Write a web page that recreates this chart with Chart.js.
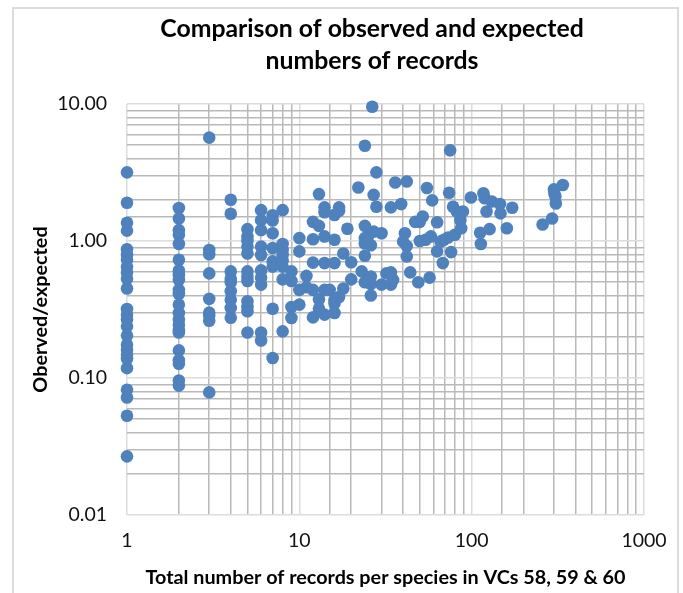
<!DOCTYPE html>
<html>
<head>
<meta charset="utf-8">
<title>Comparison of observed and expected numbers of records</title>
<script src="https://cdn.jsdelivr.net/npm/chart.js@4/dist/chart.umd.min.js"></script>
<style>
    html, body { margin: 0; background: #fff; overflow: hidden; }
    #frame { position: absolute; left: 12px; top: 7px; width: 663px; height: 620px; border: 2px solid #dcdcdc; }
    #wrap { position: absolute; left: 0; top: 0; width: 683px; height: 593px; }
</style>
</head>
<body>
<div id="frame"></div>
<div id="wrap"><canvas id="recordsChart" width="683" height="593"></canvas></div>
<script>
// Data
const chartTitle = ['Comparison of observed and expected', 'numbers of records'];
const xAxisTitle = 'Total number of records per species in VCs 58, 59 & 60';
const yAxisTitle = 'Oberved/expected';

const recordsX = [
    1, 1, 1, 1, 1, 1, 1, 1, 1, 1, 1, 1, 1, 1, 1, 1, 1, 1, 1, 1, 1, 1, 1, 1, 1,
    2, 2, 2, 2, 2, 2, 2, 2, 2, 2, 2, 2, 2, 2, 2, 2, 2, 2, 2, 2, 2, 2,
    3, 3, 3, 3, 3, 3, 3, 3, 3,
    4, 4, 4, 4, 4, 4, 4, 4, 4,
    5, 5, 5, 5, 5, 5, 5, 5, 5, 5, 5, 5,
    6, 6, 6, 6, 6, 6, 6, 6, 6, 6,
    7, 7, 7, 7, 7, 7, 7, 7,
    8, 8, 8, 8, 8, 8, 8, 8,
    9, 9, 9, 9,
    10, 10, 10, 10,
    11, 11, 12, 12, 12, 12, 12, 13, 13, 13, 13,
    14, 14, 14, 14, 14, 14, 15, 16, 16, 16, 16, 16, 16,
    17, 17, 17, 18, 18, 19, 20, 20,
    22, 23, 24, 24, 24, 24, 24, 24, 25, 26.5, 26, 26, 26, 26,
    27, 27, 28, 28, 30, 30, 32, 34, 34, 34, 35, 36,
    39, 40, 41, 42, 42, 42, 44, 47, 49, 50, 50, 52, 54, 55, 57, 58, 59,
    63, 63, 66, 68, 69, 73, 74, 75, 76, 78, 80, 82, 86, 87, 89, 99,
    112, 113, 117, 119, 122, 127, 131, 146, 147, 160, 172,
    258, 293, 308, 302, 306, 300, 338
];
const observedExpected = [
    3.17, 1.90, 1.36, 1.19, 0.87, 0.79, 0.73, 0.65, 0.59, 0.53, 0.45, 0.319, 0.29, 0.267, 0.238, 0.204, 0.175, 0.161, 0.148, 0.138, 0.118, 0.082, 0.072, 0.053, 0.0268,
    1.74, 1.46, 1.20, 1.11, 0.95, 0.73, 0.61, 0.565, 0.52, 0.44, 0.41, 0.343, 0.298, 0.267, 0.245, 0.223, 0.215, 0.159, 0.135, 0.127, 0.096, 0.088,
    5.68, 0.86, 0.80, 0.58, 0.378, 0.30, 0.285, 0.262, 0.0785,
    2.0, 1.58, 0.60, 0.53, 0.43, 0.373, 0.324, 0.275, 0.50,
    1.22, 1.08, 1.0, 0.91, 0.81, 0.60, 0.51, 0.363, 0.33, 0.307, 0.215, 0.55,
    1.68, 1.42, 1.2, 0.91, 0.79, 0.61, 0.54, 0.48, 0.215, 0.188,
    1.54, 1.41, 1.14, 0.89, 0.71, 0.65, 0.32, 0.14,
    1.68, 0.95, 0.86, 0.79, 0.72, 0.65, 0.525, 0.219,
    0.60, 0.51, 0.33, 0.274,
    1.05, 0.84, 0.44, 0.343,
    0.556, 0.46, 1.38, 1.03, 0.695, 0.44, 0.277, 1.29, 2.2, 0.375, 0.32,
    1.76, 1.62, 1.08, 0.69, 0.44, 0.29, 0.44, 1.55, 1.02, 0.69, 0.37, 0.35, 0.298,
    1.76, 1.66, 0.39, 0.81, 0.45, 1.23, 0.70, 0.525,
    2.46, 0.60, 4.96, 1.29, 1.05, 0.96, 0.78, 0.50, 1.08, 9.56, 0.93, 0.55, 0.485, 0.40,
    2.17, 1.17, 3.17, 1.78, 1.14, 0.48, 0.58, 1.76, 0.59, 0.48, 0.52, 2.67,
    1.86, 0.99, 1.14, 2.72, 0.92, 0.77, 0.59, 1.38, 0.50, 1.38, 1.0, 1.51, 1.02, 2.44, 0.54, 1.08, 1.98,
    1.37, 0.84, 0.99, 0.69, 1.02, 1.06, 2.25, 4.59, 0.83, 1.78, 1.11, 1.64, 1.42, 1.24, 1.64, 2.08,
    1.15, 0.95, 2.23, 2.05, 1.64, 1.22, 1.94, 1.86, 1.59, 1.24, 1.75,
    1.32, 1.46, 1.88, 2.22, 2.11, 2.38, 2.56
];
const xTicksShown = [1, 10, 100, 1000];
const yTicksShown = [0.01, 0.1, 1, 10];

const points = recordsX.map((x, i) => ({ x: x, y: observedExpected[i] }));

// true when a log tick is one of the labelled decade values
function isDecade(value, shown) {
    return shown.some(v => Math.abs(v - value) < v * 1e-6);
}

// the title sits a little right of the page centre
const titleShift = {
    id: 'titleShift',
    afterLayout(chart) {
        chart.titleBlock.left += 100;
    }
};

const ctx = document.getElementById('recordsChart').getContext('2d');

new Chart(ctx, {
    type: 'scatter',
    data: {
        datasets: [{
            label: 'Observed/expected',
            data: points,
            backgroundColor: '#4f81bd',
            borderColor: '#4f81bd',
            borderWidth: 0,
            pointRadius: 6.3,
            clip: false
        }]
    },
    options: {
        responsive: false,
        animation: false,
        layout: { padding: { right: 39 } },
        plugins: {
            legend: { display: false },
            tooltip: { enabled: false },
            title: {
                display: true,
                text: chartTitle,
                color: '#000',
                font: { family: 'Lato', size: 24.8, weight: 'bold', lineHeight: 32 / 24.8 },
                padding: { top: 13, bottom: 27 }
            }
        },
        scales: {
            x: {
                type: 'logarithmic',
                min: 1,
                max: 1000,
                afterFit: scale => { scale.height = 78; },
                border: { display: false },
                grid: {
                    drawTicks: false,
                    lineWidth: 1.5,
                    color: c => isDecade(c.tick.value, xTicksShown) ? '#dcdcdc' : '#b9b9b9'
                },
                ticks: {
                    autoSkip: false,
                    maxRotation: 0,
                    padding: 14,
                    color: '#111',
                    font: { family: 'Lato', size: 19.5 },
                    callback: value => isDecade(value, xTicksShown) ? String(value) : ''
                },
                title: {
                    display: true,
                    text: xAxisTitle,
                    color: '#000',
                    font: { family: 'Lato', size: 19.8, weight: 'bold' },
                    padding: { top: 0, bottom: 4 }
                }
            },
            y: {
                type: 'logarithmic',
                min: 0.01,
                max: 10,
                afterFit: scale => { scale.width = 127; },
                border: { display: false },
                grid: {
                    drawTicks: false,
                    lineWidth: 1.5,
                    color: c => isDecade(c.tick.value, yTicksShown) ? '#dcdcdc' : '#b9b9b9'
                },
                ticks: {
                    autoSkip: false,
                    padding: 20,
                    color: '#111',
                    font: { family: 'Lato', size: 19.5 },
                    callback: value => isDecade(value, yTicksShown) ? value.toFixed(2) : ''
                },
                title: {
                    display: true,
                    text: yAxisTitle,
                    color: '#000',
                    font: { family: 'Lato', size: 19.8, weight: 'bold' },
                    padding: { top: 29, bottom: 0 }
                }
            }
        }
    },
    plugins: [titleShift]
});
</script>
</body>
</html>
